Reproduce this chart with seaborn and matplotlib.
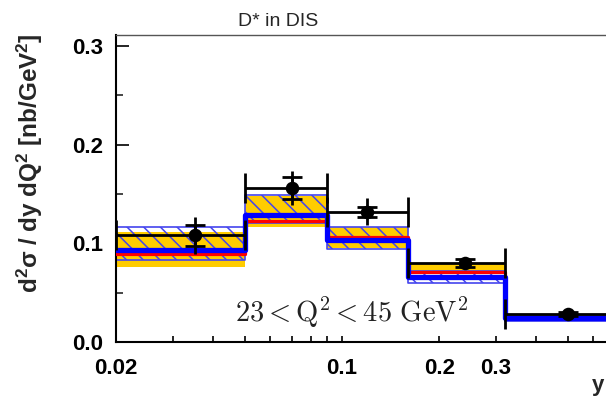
import numpy as np
import matplotlib
matplotlib.use("Agg")
import matplotlib.pyplot as plt
import seaborn as sns
from matplotlib.ticker import FixedLocator, NullFormatter

# ---- data ----
bin_edges = [0.02, 0.05, 0.09, 0.16, 0.32, 0.7]
y_points = [0.035, 0.07, 0.12, 0.24, 0.50]
xsec = [0.108, 0.156, 0.132, 0.080, 0.028]
err_stat = [0.011, 0.0115, 0.005, 0.004, 0.002]
err_tot = [0.019, 0.0175, 0.0137, 0.006, 0.003]

band1_lo = [0.076, 0.116, 0.095, 0.071, 0.024]
band1_hi = [0.111, 0.148, 0.117, 0.079, 0.028]
band2_lo = [0.083, 0.121, 0.094, 0.060, 0.021]
band2_hi = [0.117, 0.149, 0.117, 0.072, 0.026]
pred_red = [0.089, 0.123, 0.106, 0.071, 0.025]
pred_blue = [0.093, 0.129, 0.103, 0.066, 0.024]

title_text = "D* in DIS"
ylabel_text = r"d$^{2}\sigma$ / dy dQ$^{2}$ [nb/GeV$^{2}$]"
xlabel_text = "y"
q2_text = r"$\mathrm{23 < Q^2 < 45\ GeV^2}$"
xtick_vals = [0.02, 0.1, 0.2, 0.3]
xtick_labels = ["0.02", "0.1", "0.2", "0.3"]
ytick_vals = [0.0, 0.1, 0.2, 0.3]
ytick_labels = ["0.0", "0.1", "0.2", "0.3"]

sns.set_theme(style="ticks")
plt.rcParams["font.family"] = ["Liberation Sans", "DejaVu Sans"]
plt.rcParams["hatch.linewidth"] = 1.1
plt.rcParams["mathtext.fontset"] = "custom"
plt.rcParams["mathtext.rm"] = "Liberation Sans:bold"
plt.rcParams["mathtext.it"] = "Liberation Sans:bold"
plt.rcParams["mathtext.bf"] = "Liberation Sans:bold"
plt.rcParams["mathtext.sf"] = "Liberation Sans:bold"

W, H = 606, 400
fig = plt.figure(figsize=(W / 100, H / 100), dpi=100)
left_px, right_px, top_px, bot_px = 116, 615, 35, 342
ax = fig.add_axes([left_px / W, 1 - bot_px / H, (right_px - left_px) / W, (bot_px - top_px) / H])
ax.set_xscale("log")


def ext(v):
    return list(v) + [v[-1]]


# bands
ax.fill_between(bin_edges, ext(band1_lo), ext(band1_hi), step="post",
                facecolor="#FFCC00", edgecolor="none", zorder=1)
ax.fill_between(bin_edges, ext(band2_lo), ext(band2_hi), step="post",
                facecolor="none", edgecolor="#4444EE", hatch="\\\\", linewidth=1.2, zorder=2)

# central lines
sns.lineplot(x=bin_edges, y=ext(pred_red), drawstyle="steps-post", color="#FF0000",
             linewidth=2.3, ax=ax, zorder=3)
sns.lineplot(x=bin_edges, y=ext(pred_blue), drawstyle="steps-post", color="#0000FF",
             linewidth=3.8, ax=ax, zorder=4)

# error bars
xerr = [np.array(y_points) - np.array(bin_edges[:-1]), np.array(bin_edges[1:]) - np.array(y_points)]
ax.errorbar(y_points, xsec, xerr=xerr, fmt="none", ecolor="black", elinewidth=2.0,
            capsize=11, capthick=2.0, zorder=5)
ax.errorbar(y_points, xsec, yerr=err_tot, fmt="none", ecolor="black", elinewidth=2.0,
            capsize=0, zorder=5)
ax.errorbar(y_points, xsec, yerr=err_stat, fmt="none", ecolor="black", elinewidth=2.0,
            capsize=7.2, capthick=2.0, zorder=5)
sns.scatterplot(x=y_points, y=xsec, color="black", s=95, edgecolor="black", linewidth=0,
                ax=ax, zorder=6)

ax.set_xlim(0.02, 0.7)
ax.set_ylim(0, 0.311)

# ticks
ax.set_xticks(xtick_vals)
ax.set_xticklabels(xtick_labels)
ax.xaxis.set_minor_locator(FixedLocator([0.03, 0.04, 0.05, 0.06, 0.07, 0.08, 0.09, 0.4, 0.5, 0.6]))
ax.xaxis.set_minor_formatter(NullFormatter())
ax.set_yticks(ytick_vals)
ax.set_yticklabels(ytick_labels)
ax.yaxis.set_minor_locator(FixedLocator([0.05, 0.15, 0.25]))
ax.tick_params(axis="x", which="both", direction="in", length=4, width=1.2, pad=11.5,
               labelsize=16, colors="black")
ax.tick_params(axis="y", which="major", direction="in", length=9.5, width=1.2, pad=9.5,
               labelsize=16, colors="black")
ax.tick_params(axis="y", which="minor", direction="in", length=5, width=1.2)
for lab in ax.get_xticklabels() + ax.get_yticklabels():
    lab.set_fontweight("bold")

for s in ["left", "bottom"]:
    ax.spines[s].set_linewidth(1.5)
    ax.spines[s].set_color("black")
ax.spines["top"].set_linewidth(1.0)
ax.spines["top"].set_color("#555555")
ax.spines["top"].set_visible(True)
ax.spines["right"].set_visible(False)
ax.set_xlabel("")
ax.set_ylabel("")

# texts
fig.text(278 / W, 1 - 21 / H, title_text, ha="center", va="center", fontsize=14)
fig.text(30 / W, 1 - 33 / H, ylabel_text, rotation=90, ha="center", va="top",
         fontsize=17.5, fontweight="bold")
fig.text(592 / W, 1 - 391 / H, xlabel_text, ha="left", va="baseline",
         fontsize=16, fontweight="bold")
fig.text(235 / W, 1 - 322 / H, q2_text, ha="left", va="baseline", fontsize=20.5,
         math_fontfamily="cm", color="#222222")

fig.savefig("out.png", dpi=100)
